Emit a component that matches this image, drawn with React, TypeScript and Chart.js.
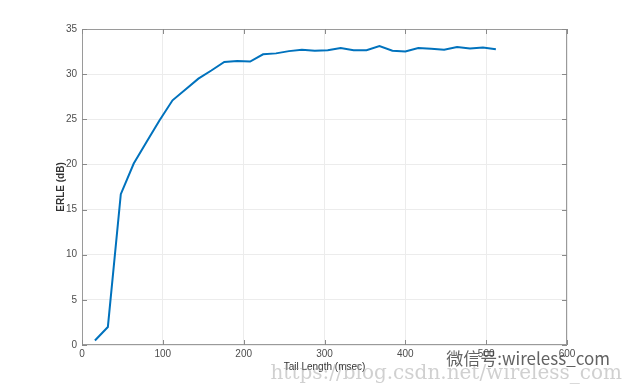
import React, { useEffect, useRef } from "react";
import { Chart, registerables } from "chart.js";

Chart.register(...registerables);

const tailLength = [16, 32, 48, 64, 80, 96, 112, 128, 144, 160, 176, 192, 208, 224, 240, 256, 272, 288, 304, 320, 336, 352, 368, 384, 400, 416, 432, 448, 464, 480, 496, 512];
const erle = [0.5, 2.0, 16.7, 20.1, 22.5, 24.9, 27.1, 28.3, 29.5, 30.4, 31.35, 31.45, 31.4, 32.2, 32.3, 32.55, 32.7, 32.6, 32.65, 32.9, 32.65, 32.65, 33.1, 32.6, 32.5, 32.9, 32.8, 32.7, 33.0, 32.85, 32.95, 32.75];
const xTitle = "Tail Length (msec)";
const yTitle = "ERLE (dB)";
const watermarkWeChat = "微信号:wireless_com";
const watermarkUrl = "https://blog.csdn.net/wireless_com";

const FONT = "'Liberation Sans', Arial, Helvetica, sans-serif";

const framePlugin = {
  id: "frame",
  afterDatasetsDraw(chart: any) {
    const { ctx, chartArea: a, scales } = chart;
    ctx.save();
    ctx.strokeStyle = "#9a9a9a";
    ctx.lineWidth = 1;
    ctx.strokeRect(a.left + 0.5, a.top + 0.5, a.right - a.left - 1, a.bottom - a.top - 1);
    ctx.strokeStyle = "#8a8a8a";
    ctx.beginPath();
    const xs = scales.x;
    xs.ticks.forEach((t: any) => {
      const px = Math.round(xs.getPixelForValue(t.value)) + 0.5;
      ctx.moveTo(px, a.bottom);
      ctx.lineTo(px, a.bottom - 5);
      ctx.moveTo(px, a.top);
      ctx.lineTo(px, a.top + 5);
    });
    const ys = scales.y;
    ys.ticks.forEach((t: any) => {
      const py = Math.round(ys.getPixelForValue(t.value)) + 0.5;
      ctx.moveTo(a.left, py);
      ctx.lineTo(a.left + 5, py);
      ctx.moveTo(a.right, py);
      ctx.lineTo(a.right - 5, py);
    });
    ctx.stroke();
    ctx.restore();
  },
  afterDraw(chart: any) {
    const { ctx, width, height } = chart;
    ctx.save();
    ctx.font = "20px 'DejaVu Serif', 'Liberation Serif', serif";
    ctx.fillStyle = "rgba(150,150,150,0.45)";
    ctx.textAlign = "right";
    ctx.textBaseline = "alphabetic";
    ctx.fillText(watermarkUrl, width - 2, height - 8);
    ctx.font = "17px 'Noto Sans CJK SC', sans-serif";
    ctx.fillStyle = "rgba(70,70,70,0.85)";
    ctx.fillText(watermarkWeChat, width - 14, height - 22);
    ctx.restore();
  },
};

export default function App() {
  const ref = useRef<HTMLCanvasElement | null>(null);
  useEffect(() => {
    if (!ref.current) return;
    const chart = new Chart(ref.current, {
      type: "line",
      data: {
        datasets: [
          {
            data: tailLength.map((x, i) => ({ x, y: erle[i] })),
            borderColor: "#0072BD",
            borderWidth: 2,
            pointRadius: 0,
            fill: false,
            tension: 0,
          },
        ],
      },
      options: {
        animation: false,
        responsive: false,
        layout: { padding: { top: 29, right: 57, left: 0, bottom: 0 } },
        plugins: { legend: { display: false }, tooltip: { enabled: false } },
        scales: {
          x: {
            type: "linear",
            min: 0,
            max: 600,
            ticks: { stepSize: 100, color: "#4d4d4d", font: { family: FONT, size: 10 }, padding: 3, maxRotation: 0 },
            grid: { color: "#ececec", drawTicks: false },
            border: { display: false },
            title: { display: true, text: xTitle, color: "#333333", font: { family: FONT, size: 10 }, padding: { top: 0, bottom: 14 } },
            afterFit(scale: any) {
              scale.height = 42;
            },
          },
          y: {
            min: 0,
            max: 35,
            ticks: { stepSize: 5, color: "#4d4d4d", font: { family: FONT, size: 10 }, padding: 5 },
            grid: { color: "#ececec", drawTicks: false },
            border: { display: false },
            title: { display: true, text: yTitle, color: "#333333", font: { family: FONT, size: 10, weight: "bold" }, padding: { top: 55, bottom: 0 } },
            afterFit(scale: any) {
              scale.width = 82;
            },
          },
        },
      },
      plugins: [framePlugin],
    } as any);
    return () => chart.destroy();
  }, []);
  return (
    <div style={{ position: "fixed", left: 0, top: 0, width: 624, height: 387, background: "#fff" }}>
      <canvas ref={ref} width={624} height={387} />
    </div>
  );
}
